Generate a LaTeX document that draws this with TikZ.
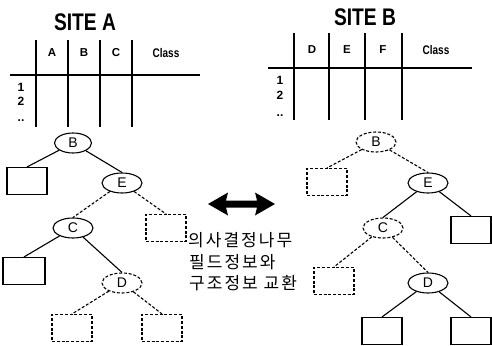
\documentclass[tikz,border=0pt]{standalone}
\usepackage{fontspec}
\setmainfont{Liberation Sans}
\newfontfamily\titlefont[FakeStretch=0.8]{Liberation Sans}
\newfontfamily\kofont[LetterSpace=12]{Noto Sans CJK KR}
\usetikzlibrary{shapes.geometric}

\tikzset{
  tblline/.style={line width=1.3pt},
  title/.style={font=\titlefont\bfseries\fontsize{24}{26}\selectfont},
  hdr/.style={font=\bfseries\fontsize{11.5}{13}\selectfont, inner sep=0pt},
  classhdr/.style={font=\titlefont\bfseries\fontsize{12.5}{14}\selectfont, inner sep=0pt},
  rowlbl/.style={font=\bfseries\fontsize{12}{13}\selectfont, inner sep=0pt},
  solidnode/.style={ellipse, draw, line width=1.1pt, minimum width=40pt, minimum height=20pt,
    inner sep=0pt, font=\fontsize{14}{16}\selectfont},
  dashnode/.style={solidnode, dash pattern=on 3pt off 1.8pt},
  leaf/.style={rectangle, draw, line width=1.1pt, minimum width=40pt, minimum height=27pt, inner sep=0pt},
  dleaf/.style={leaf, dash pattern=on 3pt off 1.8pt},
  sedge/.style={line width=1.1pt},
  dedge/.style={line width=1.1pt, dash pattern=on 3pt off 1.8pt},
  kotext/.style={font=\kofont\fontsize{17}{19}\selectfont, anchor=west, inner sep=0pt},
}

\begin{document}
\begin{tikzpicture}[x=1pt, y=-1pt]
\useasboundingbox (0,0) rectangle (492,345);

% ---------- site A: table ----------
\node[title] (titleA) at (85,22) {SITE A};
\foreach \x in {36,68,100,132} \draw[tblline] (\x,40) -- (\x,127);
\draw[tblline] (10,75) -- (200,75);
\node[hdr] (hA) at (52,53) {A};
\node[hdr] (hB) at (84,53) {B};
\node[hdr] (hC) at (116,53) {C};
\node[classhdr] (hClassA) at (166,53) {Class};
\node[rowlbl] (rA1) at (21,87) {1};
\node[rowlbl] (rA2) at (21,101) {2};
\node[rowlbl, anchor=base] (rA3) at (21,121) {..};

% ---------- site B: table ----------
\node[title] (titleB) at (365,17) {SITE B};
\foreach \x in {294,329,365,402} \draw[tblline] (\x,33) -- (\x,120);
\draw[tblline] (268,68) -- (472,68);
\node[hdr] (hD) at (312,50) {D};
\node[hdr] (hE) at (347,50) {E};
\node[hdr] (hF) at (383,50) {F};
\node[classhdr] (hClassB) at (436,50) {Class};
\node[rowlbl] (rB1) at (280,80) {1};
\node[rowlbl] (rB2) at (280,95) {2};
\node[rowlbl, anchor=base] (rB3) at (280,116) {..};

% ---------- site A: tree ----------
\node[solidnode, minimum width=37pt] (aB) at (73,143) {B};
\node[leaf] (aL1) at (27,181) {};
\node[solidnode] (aE) at (122,183) {E};
\node[dleaf] (aL2) at (166,228) {};
\node[solidnode] (aC) at (73,228) {C};
\node[leaf, minimum width=42pt] (aL3) at (24,271) {};
\node[dashnode] (aD) at (122,283) {D};
\node[dleaf] (aL4) at (72,328) {};
\node[dleaf] (aL5) at (162,328) {};

\draw[sedge] (aB) -- (aL1.north);
\draw[sedge] (aB) -- (aE.north);
\draw[dedge] (aE) -- (aC.north);
\draw[dedge] (aE) -- (aL2.north);
\draw[sedge] (aC) -- (aL3.north);
\draw[sedge] (aC) -- (aD.north);
\draw[dedge] (aD) -- (aL4.north);
\draw[dedge] (aD) -- (aL5.north);

% ---------- site B: tree ----------
\node[dashnode] (bB) at (376,142) {B};
\node[dleaf] (bL1) at (327,182) {};
\node[solidnode] (bE) at (428,183) {E};
\node[leaf] (bL2) at (471,230) {};
\node[dashnode] (bC) at (383,228) {C};
\node[dleaf] (bL3) at (334,281) {};
\node[solidnode] (bD) at (428,283) {D};
\node[leaf] (bL4) at (382,331) {};
\node[leaf] (bL5) at (471,331) {};

\draw[dedge] (bB) -- (bL1.north);
\draw[dedge] (bB) -- (bE.north);
\draw[sedge] (bE) -- (bC.north);
\draw[sedge] (bE) -- (bL2.north);
\draw[dedge] (bC) -- (bL3.north);
\draw[dedge] (bC) -- (bD.north);
\draw[sedge] (bD) -- (bL4.north);
\draw[sedge] (bD) -- (bL5.north);

% ---------- exchange arrow and caption ----------
\fill (208,204) -- (228,192.5) -- (226,200.5) -- (257,200.5) -- (255,192.5) -- (275,204)
      -- (255,215.5) -- (257,207.5) -- (226,207.5) -- (228,215.5) -- cycle;
\node[kotext] (k1) at (188,240) {의사결정나무};
\node[kotext] (k2) at (189,262) {필드정보와};
\node[kotext] (k3) at (189,283) {구조정보 교환};
\end{tikzpicture}
\end{document}
